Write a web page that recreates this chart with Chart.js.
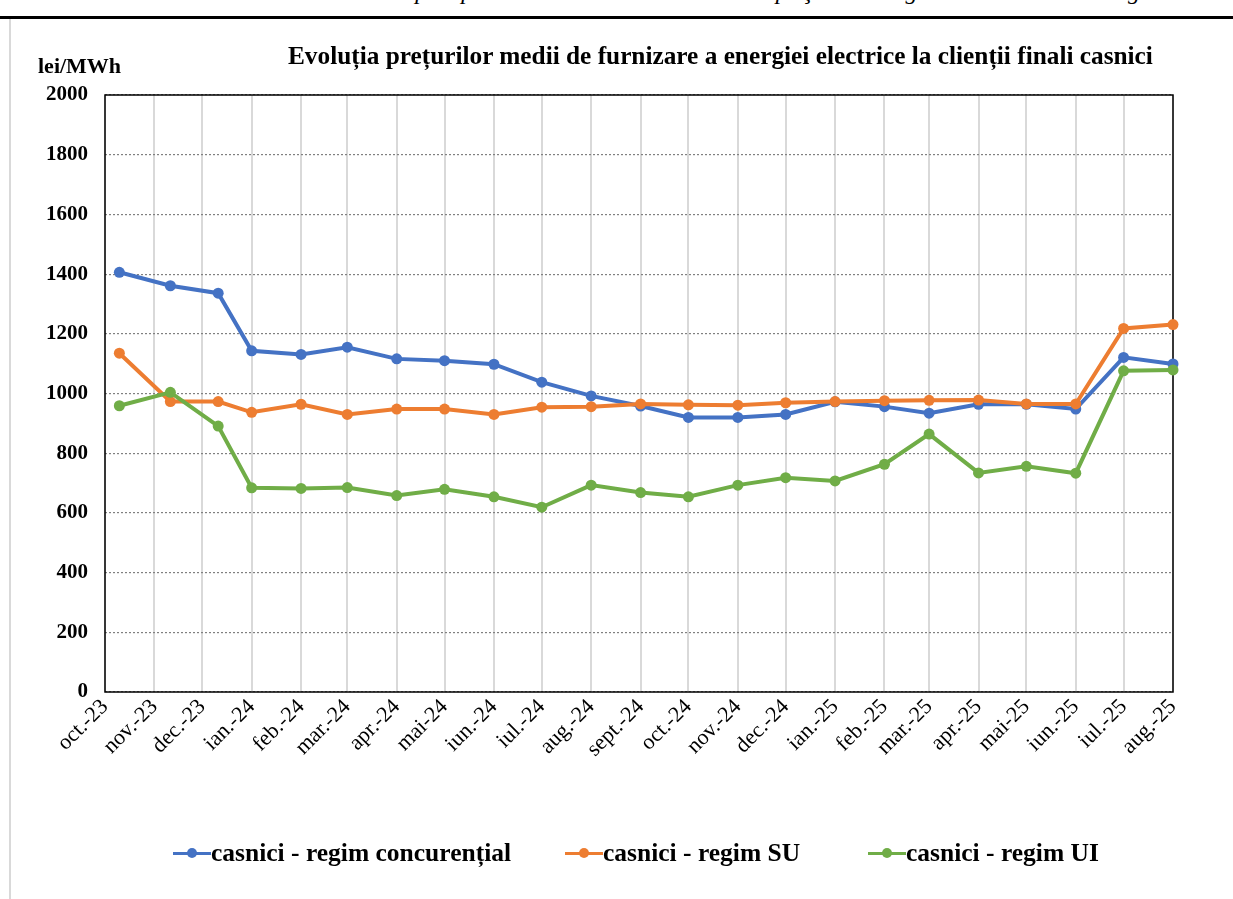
<!DOCTYPE html>
<html lang="ro">
<head>
<meta charset="utf-8">
<title>Evoluția prețurilor medii de furnizare</title>
<script src="https://cdn.jsdelivr.net/npm/chart.js@4.4.0/dist/chart.umd.min.js"></script>
<style>
    html, body { margin: 0; padding: 0; background: #fff; }
    body { width: 1233px; height: 899px; position: relative; overflow: hidden; font-family: 'Liberation Serif', 'Times New Roman', serif; color: #000; }
    #antet { position: absolute; left: 0; top: -21px; width: 1222px; text-align: right; font-style: italic; font-size: 24px; line-height: 24px; white-space: nowrap; }
    #linieSus { position: absolute; left: 0; top: 16px; width: 1233px; height: 3px; background: #000; }
    #ramaStg { position: absolute; left: 9px; top: 19px; width: 2px; height: 880px; background: #d9d9d9; }
    #grafic { position: absolute; left: 0; top: 0; }
    #titlu { position: absolute; left: 288px; top: 43px; font-weight: bold; font-size: 25.3px; line-height: 25px; white-space: nowrap; }
    #unitate { position: absolute; left: 38px; top: 55px; font-weight: bold; font-size: 22px; line-height: 22px; }
    .leg-item { position: absolute; top: 839px; display: flex; align-items: center; font-weight: bold; font-size: 25.5px; line-height: 28px; white-space: nowrap; }
    .leg-marker { position: relative; width: 38px; height: 12px; }
    .leg-marker .linie { position: absolute; left: 0; right: 0; top: 4.5px; height: 3px; }
    .leg-marker .punct { position: absolute; left: 14px; top: 1px; width: 10px; height: 10px; border-radius: 50%; }
</style>
</head>
<body>
<div id="antet">Raport privind rezultatele monitorizării pieţei de energie electrică în luna august 2025</div>
<div id="linieSus"></div>
<div id="ramaStg"></div>
<canvas id="grafic" width="1233" height="899"></canvas>
<div id="titlu">Evoluția prețurilor medii de furnizare a energiei electrice la clienții finali casnici</div>
<div id="unitate">lei/MWh</div>
<div id="legenda"></div>

<script>
// ===== Date grafic =====
const etichete = ['oct.-23', 'nov.-23', 'dec.-23', 'ian.-24', 'feb.-24', 'mar.-24', 'apr.-24', 'mai-24',
    'iun.-24', 'iul.-24', 'aug.-24', 'sept.-24', 'oct.-24', 'nov.-24', 'dec.-24', 'ian.-25', 'feb.-25',
    'mar.-25', 'apr.-25', 'mai-25', 'iun.-25', 'iul.-25', 'aug.-25'];

// zile de la 1 oct. 2023 pana la inceputul fiecarei luni (axa de tip data)
const zileLuna = [0, 31, 61, 92, 123, 152, 183, 213, 244, 274, 305, 336, 366, 397, 427, 458, 489, 517, 548, 578, 609, 639, 670];
// ziua fiecarei raportari (primele trei nu sunt la inceput de luna)
const zilePuncte = [9, 41, 71, 92, 123, 152, 183, 213, 244, 274, 305, 336, 366, 397, 427, 458, 489, 517, 548, 578, 609, 639, 670];

const regimConcurential = [1406, 1361, 1336, 1143, 1131, 1155, 1116, 1110, 1098, 1038, 992, 958,
    920, 920, 930, 972, 956, 934, 964, 964, 948, 1121, 1099];
const regimSU = [1135, 973, 973, 937, 964, 930, 948, 948, 930, 954, 956, 965,
    962, 961, 969, 973, 976, 977, 978, 965, 965, 1218, 1231];
const regimUI = [959, 1004, 891, 684, 682, 685, 658, 679, 654, 619, 693, 668,
    654, 693, 718, 707, 763, 864, 734, 756, 733, 1076, 1079];

const valoriY = { min: 0, max: 2000, pas: 200 };

const serii = [
    { label: 'casnici - regim concurențial', valori: regimConcurential, culoare: '#4472C4', ordine: 2 },
    { label: 'casnici - regim SU', valori: regimSU, culoare: '#ED7D31', ordine: 1 },
    { label: 'casnici - regim UI', valori: regimUI, culoare: '#70AD47', ordine: 0 }
];

// pozitia elementelor din legenda (px de la stanga)
const legendaStanga = [173, 565, 868];

// ===== Rama zonei de grafic =====
const ramaPlot = {
    id: 'ramaPlot',
    beforeDatasetsDraw(chart) {
        const { ctx, chartArea: a } = chart;
        ctx.save();
        ctx.strokeStyle = '#000';
        ctx.lineWidth = 1.5;
        ctx.strokeRect(a.left, a.top, a.right - a.left, a.bottom - a.top);
        ctx.restore();
    }
};

const fontAxa = { family: "'Liberation Serif', 'Times New Roman', serif", size: 22 };

const grafic = new Chart(document.getElementById('grafic').getContext('2d'), {
    type: 'line',
    data: {
        datasets: serii.map(s => ({
            label: s.label,
            data: zilePuncte.map((x, i) => ({ x, y: s.valori[i] })),
            borderColor: s.culoare,
            backgroundColor: s.culoare,
            pointBackgroundColor: s.culoare,
            pointBorderColor: s.culoare,
            borderWidth: 4,
            pointRadius: 5.5,
            pointBorderWidth: 0,
            tension: 0,
            fill: false,
            clip: false,
            order: s.ordine
        }))
    },
    options: {
        responsive: false,
        animation: false,
        layout: { padding: { left: 0, top: 95, right: 60, bottom: 0 } },
        plugins: {
            legend: { display: false },
            title: { display: false },
            tooltip: { enabled: false }
        },
        scales: {
            x: {
                type: 'linear',
                min: zileLuna[0],
                max: zileLuna[zileLuna.length - 1],
                afterBuildTicks: s => { s.ticks = zileLuna.map(v => ({ value: v })); },
                afterFit: s => { s.height = 207; },
                ticks: {
                    autoSkip: false,
                    minRotation: 45,
                    maxRotation: 45,
                    padding: 2,
                    color: '#000',
                    font: fontAxa,
                    callback: (v, i) => etichete[i]
                },
                grid: { color: '#d9d9d9', lineWidth: 2, drawTicks: false },
                border: { display: false }
            },
            y: {
                min: valoriY.min,
                max: valoriY.max,
                afterFit: s => { s.width = 105; },
                ticks: {
                    stepSize: valoriY.pas,
                    padding: 17,
                    color: '#000',
                    font: { ...fontAxa, size: 21, weight: 'bold' },
                    callback: v => String(v)
                },
                grid: { color: '#808080', lineWidth: 1.2, drawTicks: false },
                border: { display: false, dash: [2, 2] }
            }
        }
    },
    plugins: [ramaPlot]
});

// ===== Legenda HTML =====
document.getElementById('legenda').innerHTML = grafic.data.datasets.map((ds, i) => `
    <div class="leg-item" style="left:${legendaStanga[i]}px">
        <span class="leg-marker"><span class="linie" style="background:${ds.borderColor}"></span><span class="punct" style="background:${ds.borderColor}"></span></span>
        <span>${ds.label}</span>
    </div>`).join('');
</script>
</body>
</html>
